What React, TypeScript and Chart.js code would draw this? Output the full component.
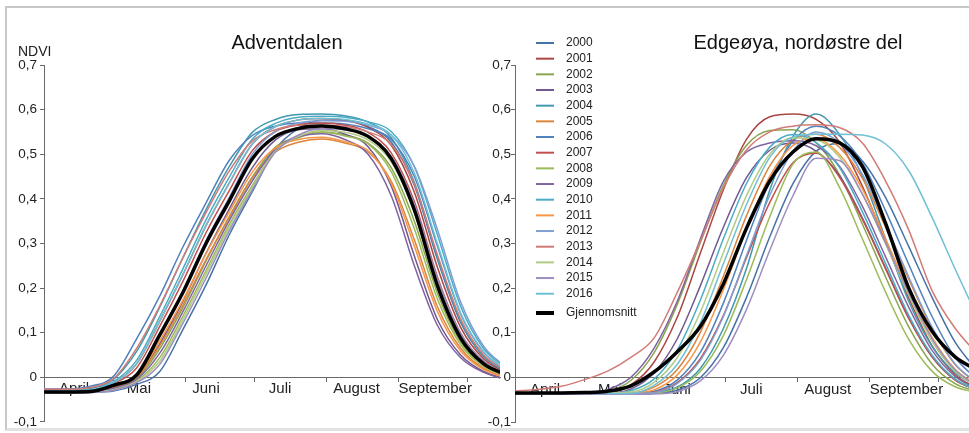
import React, { useEffect, useRef } from 'react';
import { Chart, registerables } from 'chart.js';

Chart.register(...registerables);

const FONT = "'Liberation Sans', Arial, Helvetica, sans-serif";

// x values: days after 1 April
const days = [0, 10, 20, 30, 40, 50, 60, 70, 80, 90, 100, 110, 120, 130, 140, 150, 160, 170, 180, 190, 200];
const years = ['2000', '2001', '2002', '2003', '2004', '2005', '2006', '2007', '2008', '2009', '2010', '2011', '2012', '2013', '2014', '2015', '2016'];
const meanLabel = 'Gjennomsnitt';
const yearColors = ['#4572A7', '#AA4643', '#89A54E', '#71588F', '#4198AF', '#DB843D', '#4F81BD', '#C0504D', '#9BBB59', '#8064A2', '#4BACC6', '#F79646', '#7F9FD3', '#D17B78', '#B3CB85', '#9D8DC0', '#6FC0D6'];
const monthStartDays = [0, 30, 61, 91, 122, 153, 183];
const monthNames = ['April', 'Mai', 'Juni', 'Juli', 'August', 'September'];
const monthLabelDays = [13, 41, 70, 102, 135, 169];

// Adventdalen
const adv2000 = [-0.035, -0.035, -0.034, -0.031, -0.016, 0.013, 0.107, 0.207, 0.319, 0.416, 0.511, 0.558, 0.576, 0.576, 0.562, 0.527, 0.43, 0.264, 0.123, 0.046, 0.011];
const adv2001 = [-0.03, -0.03, -0.029, -0.012, 0.03, 0.126, 0.23, 0.34, 0.435, 0.523, 0.562, 0.577, 0.58, 0.576, 0.56, 0.52, 0.415, 0.246, 0.112, 0.041, 0.009];
const adv2002 = [-0.032, -0.032, -0.033, -0.023, -0.003, 0.064, 0.156, 0.261, 0.36, 0.449, 0.516, 0.54, 0.55, 0.543, 0.525, 0.47, 0.35, 0.188, 0.079, 0.027, 0.003];
const adv2003 = [-0.033, -0.033, -0.033, -0.022, 0.0, 0.075, 0.17, 0.278, 0.377, 0.47, 0.532, 0.555, 0.557, 0.545, 0.517, 0.429, 0.272, 0.129, 0.05, 0.013, -0.004];
const adv2004 = [-0.028, -0.028, -0.025, -0.005, 0.058, 0.157, 0.268, 0.376, 0.472, 0.549, 0.578, 0.589, 0.59, 0.586, 0.572, 0.537, 0.437, 0.268, 0.125, 0.047, 0.011];
const adv2005 = [-0.034, -0.034, -0.033, -0.022, 0.0, 0.071, 0.162, 0.264, 0.358, 0.447, 0.505, 0.527, 0.534, 0.525, 0.505, 0.44, 0.308, 0.158, 0.065, 0.02, -0.001];
const adv2006 = [-0.026, -0.026, -0.02, 0.002, 0.086, 0.182, 0.292, 0.391, 0.486, 0.542, 0.563, 0.57, 0.57, 0.568, 0.557, 0.533, 0.45, 0.293, 0.142, 0.056, 0.015];
const adv2007 = [-0.031, -0.031, -0.03, -0.014, 0.021, 0.114, 0.215, 0.324, 0.418, 0.508, 0.551, 0.566, 0.57, 0.565, 0.549, 0.503, 0.394, 0.225, 0.099, 0.035, 0.007];
const adv2008 = [-0.033, -0.033, -0.033, -0.027, -0.008, 0.044, 0.137, 0.239, 0.342, 0.43, 0.508, 0.537, 0.549, 0.541, 0.523, 0.461, 0.333, 0.175, 0.073, 0.024, 0.002];
const adv2009 = [-0.034, -0.034, -0.033, -0.025, -0.005, 0.054, 0.147, 0.25, 0.351, 0.44, 0.512, 0.539, 0.546, 0.533, 0.5, 0.407, 0.25, 0.116, 0.044, 0.011, -0.006];
const adv2010 = [-0.029, -0.029, -0.028, -0.01, 0.038, 0.136, 0.243, 0.353, 0.448, 0.534, 0.569, 0.583, 0.585, 0.583, 0.573, 0.551, 0.472, 0.319, 0.159, 0.064, 0.019];
const adv2011 = [-0.035, -0.035, -0.032, -0.02, 0.002, 0.082, 0.173, 0.277, 0.37, 0.46, 0.514, 0.533, 0.538, 0.528, 0.508, 0.435, 0.294, 0.147, 0.059, 0.017, -0.002];
const adv2012 = [-0.032, -0.032, -0.032, -0.018, 0.005, 0.097, 0.194, 0.306, 0.403, 0.5, 0.551, 0.57, 0.575, 0.574, 0.565, 0.543, 0.473, 0.331, 0.169, 0.069, 0.021];
const adv2013 = [-0.027, -0.027, -0.023, -0.003, 0.065, 0.16, 0.268, 0.369, 0.462, 0.53, 0.555, 0.565, 0.565, 0.562, 0.55, 0.522, 0.433, 0.274, 0.131, 0.05, 0.013];
const adv2014 = [-0.034, -0.034, -0.033, -0.028, -0.01, 0.036, 0.129, 0.231, 0.335, 0.425, 0.507, 0.54, 0.553, 0.549, 0.532, 0.483, 0.37, 0.202, 0.087, 0.03, 0.005];
const adv2015 = [-0.035, -0.035, -0.034, -0.029, -0.012, 0.029, 0.121, 0.222, 0.328, 0.42, 0.505, 0.543, 0.557, 0.555, 0.539, 0.495, 0.387, 0.221, 0.098, 0.035, 0.007];
const adv2016 = [-0.03, -0.03, -0.029, -0.012, 0.03, 0.126, 0.23, 0.34, 0.435, 0.523, 0.562, 0.577, 0.58, 0.578, 0.567, 0.543, 0.458, 0.299, 0.144, 0.057, 0.015];
const advMean = [-0.033, -0.033, -0.032, -0.018, 0.005, 0.095, 0.19, 0.3, 0.395, 0.49, 0.54, 0.558, 0.563, 0.557, 0.54, 0.49, 0.375, 0.205, 0.088, 0.03, 0.005];

// Edgeøya, nordøstre del
const edg2000 = [-0.035, -0.035, -0.035, -0.035, -0.035, -0.035, -0.035, -0.029, -0.001, 0.067, 0.18, 0.315, 0.434, 0.507, 0.524, 0.485, 0.403, 0.293, 0.18, 0.079, 0.012];
const edg2001 = [-0.036, -0.036, -0.036, -0.036, -0.035, -0.017, 0.034, 0.134, 0.278, 0.421, 0.534, 0.584, 0.59, 0.578, 0.528, 0.428, 0.303, 0.178, 0.071, 0.006, -0.026];
const edg2002 = [-0.035, -0.035, -0.035, -0.035, -0.031, -0.007, 0.055, 0.163, 0.302, 0.431, 0.52, 0.553, 0.555, 0.526, 0.455, 0.343, 0.225, 0.113, 0.03, -0.014, -0.032];
const edg2003 = [-0.036, -0.036, -0.036, -0.036, -0.036, -0.026, 0.01, 0.086, 0.205, 0.337, 0.448, 0.509, 0.525, 0.507, 0.453, 0.357, 0.245, 0.133, 0.047, -0.005, -0.029];
const edg2004 = [-0.037, -0.037, -0.037, -0.037, -0.037, -0.037, -0.034, -0.022, 0.02, 0.11, 0.245, 0.42, 0.54, 0.59, 0.545, 0.45, 0.31, 0.17, 0.07, 0.01, -0.02];
const edg2005 = [-0.035, -0.035, -0.035, -0.035, -0.035, -0.035, -0.022, 0.017, 0.101, 0.227, 0.363, 0.474, 0.532, 0.545, 0.516, 0.446, 0.336, 0.22, 0.11, 0.029, -0.015];
const edg2006 = [-0.036, -0.036, -0.036, -0.036, -0.036, -0.035, -0.031, -0.006, 0.056, 0.167, 0.308, 0.439, 0.529, 0.563, 0.542, 0.48, 0.373, 0.253, 0.137, 0.045, -0.007];
const edg2007 = [-0.035, -0.035, -0.035, -0.035, -0.035, -0.035, -0.033, -0.012, 0.042, 0.139, 0.269, 0.392, 0.481, 0.502, 0.449, 0.354, 0.243, 0.132, 0.046, -0.006, -0.029];
const edg2008 = [-0.036, -0.036, -0.036, -0.036, -0.036, -0.036, -0.035, -0.024, 0.013, 0.094, 0.22, 0.36, 0.478, 0.505, 0.427, 0.31, 0.191, 0.085, 0.014, -0.021, -0.034];
const edg2009 = [-0.036, -0.036, -0.036, -0.034, -0.027, 0.0, 0.065, 0.17, 0.31, 0.44, 0.505, 0.525, 0.53, 0.519, 0.474, 0.383, 0.27, 0.157, 0.061, 0.002, -0.027];
const edg2010 = [-0.037, -0.037, -0.037, -0.037, -0.036, -0.03, -0.004, 0.061, 0.173, 0.311, 0.435, 0.516, 0.544, 0.526, 0.471, 0.371, 0.255, 0.139, 0.05, -0.004, -0.029];
const edg2011 = [-0.036, -0.036, -0.036, -0.036, -0.036, -0.035, -0.028, 0.005, 0.079, 0.197, 0.334, 0.451, 0.52, 0.535, 0.5, 0.422, 0.31, 0.195, 0.09, 0.018, -0.019];
const edg2012 = [-0.036, -0.036, -0.036, -0.036, -0.036, -0.036, -0.034, -0.014, 0.038, 0.137, 0.274, 0.408, 0.507, 0.55, 0.526, 0.455, 0.343, 0.225, 0.113, 0.03, -0.014];
const edg2013 = [-0.03, -0.027, -0.02, -0.005, 0.014, 0.045, 0.088, 0.19, 0.305, 0.425, 0.51, 0.55, 0.563, 0.566, 0.56, 0.525, 0.44, 0.33, 0.195, 0.11, 0.05];
const edg2014 = [-0.036, -0.036, -0.036, -0.036, -0.035, -0.033, -0.011, 0.044, 0.146, 0.28, 0.408, 0.5, 0.537, 0.533, 0.494, 0.411, 0.299, 0.184, 0.081, 0.013, -0.022];
const edg2015 = [-0.037, -0.037, -0.038, -0.038, -0.038, -0.038, -0.037, -0.032, -0.008, 0.05, 0.153, 0.285, 0.407, 0.491, 0.486, 0.41, 0.301, 0.189, 0.087, 0.017, -0.02];
const edg2016 = [-0.036, -0.036, -0.036, -0.036, -0.036, -0.036, -0.018, 0.029, 0.122, 0.255, 0.388, 0.493, 0.539, 0.545, 0.545, 0.543, 0.523, 0.463, 0.359, 0.243, 0.131];
const edgMean = [-0.035, -0.035, -0.035, -0.034, -0.031, -0.019, 0.012, 0.057, 0.114, 0.21, 0.335, 0.44, 0.505, 0.535, 0.526, 0.472, 0.345, 0.2, 0.104, 0.046, 0.015];

const advSeries = [adv2000, adv2001, adv2002, adv2003, adv2004, adv2005, adv2006, adv2007, adv2008, adv2009, adv2010, adv2011, adv2012, adv2013, adv2014, adv2015, adv2016];
const edgSeries = [edg2000, edg2001, edg2002, edg2003, edg2004, edg2005, edg2006, edg2007, edg2008, edg2009, edg2010, edg2011, edg2012, edg2013, edg2014, edg2015, edg2016];

const AXIS = '#6a6a6a';
const TEXT = '#222222';

const panelText = {
  id: 'panelText',
  afterDraw(chart: any, _args: any, opts: any) {
    const ctx = chart.ctx;
    ctx.save();
    for (const t of opts.items || []) {
      ctx.font = t.font;
      ctx.fillStyle = t.color || TEXT;
      ctx.textAlign = t.align || 'left';
      ctx.textBaseline = 'middle';
      ctx.fillText(t.text, t.x, t.y);
    }
    ctx.restore();
  },
};

const lineLegend = {
  id: 'lineLegend',
  afterDraw(chart: any, _args: any, opts: any) {
    const ctx = chart.ctx;
    ctx.save();
    ctx.font = opts.font;
    ctx.textBaseline = 'middle';
    ctx.textAlign = 'left';
    const n = chart.data.datasets.length;
    chart.data.datasets.forEach((ds: any, i: number) => {
      const y = opts.y + i * opts.spacing + (i === n - 1 ? opts.lastGap : 0);
      ctx.strokeStyle = ds.borderColor;
      ctx.lineWidth = ds.borderWidth > 2 ? 4 : 2;
      ctx.beginPath();
      ctx.moveTo(opts.x, y);
      ctx.lineTo(opts.x + opts.lineLength, y);
      ctx.stroke();
      ctx.fillStyle = TEXT;
      ctx.fillText(ds.label, opts.x + opts.lineLength + opts.gap, y);
    });
    ctx.restore();
  },
};

function buildConfig(series: number[][], mean: number[], xMax: number, yWidth: number, yPad: number, padRight: number, texts: any[], legendOpts: any) {
  const datasets: any[] = series.map((data, i) => ({
    label: years[i],
    data,
    borderColor: yearColors[i],
    backgroundColor: yearColors[i],
    borderWidth: 1.5,
    pointRadius: 0,
    fill: false,
    cubicInterpolationMode: 'monotone',
    order: years.length - i,
  }));
  datasets.push({
    label: meanLabel,
    data: mean,
    borderColor: '#000000',
    backgroundColor: '#000000',
    borderWidth: 3.5,
    pointRadius: 0,
    fill: false,
    cubicInterpolationMode: 'monotone',
    order: 0,
  });
  const plugins: any[] = [panelText];
  if (legendOpts) plugins.push(lineLegend);
  return {
    type: 'line',
    data: { labels: days, datasets },
    plugins,
    options: {
      animation: false,
      responsive: false,
      maintainAspectRatio: false,
      events: [],
      layout: { padding: { top: 65, bottom: 11, left: 0, right: padRight } },
      plugins: {
        legend: { display: false },
        tooltip: { enabled: false },
        title: { display: false },
        panelText: { items: texts },
        lineLegend: legendOpts || {},
      },
      scales: {
        x: {
          type: 'linear',
          min: 0,
          max: xMax,
          position: { y: 0 },
          afterBuildTicks: (s: any) => {
            s.ticks = monthStartDays.map((v) => ({ value: v }));
          },
          ticks: { display: false },
          grid: { drawOnChartArea: false, drawTicks: true, tickLength: 4, color: AXIS, lineWidth: 1 },
          border: { display: true, color: AXIS, width: 1 },
        },
        xm: {
          type: 'linear',
          min: 0,
          max: xMax,
          position: { y: 0 },
          afterBuildTicks: (s: any) => {
            s.ticks = monthLabelDays.map((v) => ({ value: v }));
          },
          ticks: {
            autoSkip: false,
            maxRotation: 0,
            padding: 3,
            color: TEXT,
            font: { family: FONT, size: 15 },
            callback: (_v: any, i: number) => monthNames[i],
          },
          grid: { display: false, drawTicks: false },
          border: { display: false },
        },
        y: {
          type: 'linear',
          min: -0.1,
          max: 0.7,
          afterFit: (s: any) => {
            s.width = yWidth;
          },
          ticks: {
            stepSize: 0.1,
            padding: yPad,
            color: TEXT,
            font: { family: FONT, size: 13.5 },
            callback: (v: any) => {
              const n = Number(v);
              if (Math.abs(n) < 1e-9) return '0';
              return n.toFixed(1).replace('.', ',');
            },
          },
          grid: { drawOnChartArea: false, drawTicks: true, tickLength: 4, color: AXIS, lineWidth: 1 },
          border: { display: true, color: AXIS, width: 1 },
        },
      },
    },
  };
}

function Panel(props: { left: number; width: number; config: any }) {
  const ref = useRef<HTMLCanvasElement>(null);
  useEffect(() => {
    const chart = new Chart(ref.current as HTMLCanvasElement, props.config);
    return () => chart.destroy();
  }, []);
  return (
    <canvas
      ref={ref}
      width={props.width}
      height={433}
      style={{ position: 'absolute', left: props.left, top: 0, width: props.width, height: 433 }}
    />
  );
}

export default function App() {
  const leftConfig = buildConfig(advSeries, advMean, 197, 44, 3, 10, [
    { text: 'Adventdalen', x: 287, y: 43, align: 'center', font: `20px ${FONT}`, color: '#111' },
    { text: 'NDVI', x: 18, y: 52, align: 'left', font: `14px ${FONT}` },
  ], null);
  const rightConfig = buildConfig(edgSeries, edgMean, 196, 35, 0, 0, [
    { text: 'Edgeøya, nordøstre del', x: 318, y: 43, align: 'center', font: `20px ${FONT}`, color: '#111' },
  ], { x: 56, y: 43, spacing: 15.67, lastGap: 3.6, lineLength: 18, gap: 12, font: `12px ${FONT}` });
  return (
    <div style={{ position: 'fixed', left: 0, top: 0, width: 969, height: 433, background: '#ffffff', overflow: 'hidden' }}>
      <div style={{ position: 'absolute', left: 5, top: 6, width: 1000, height: 420, borderTop: '2px solid #c8c8c8', borderLeft: '2px solid #c8c8c8', borderBottom: '3px solid #e2e2e2' }} />
      <Panel left={0} width={510} config={leftConfig} />
      <Panel left={480} width={489} config={rightConfig} />
    </div>
  );
}
